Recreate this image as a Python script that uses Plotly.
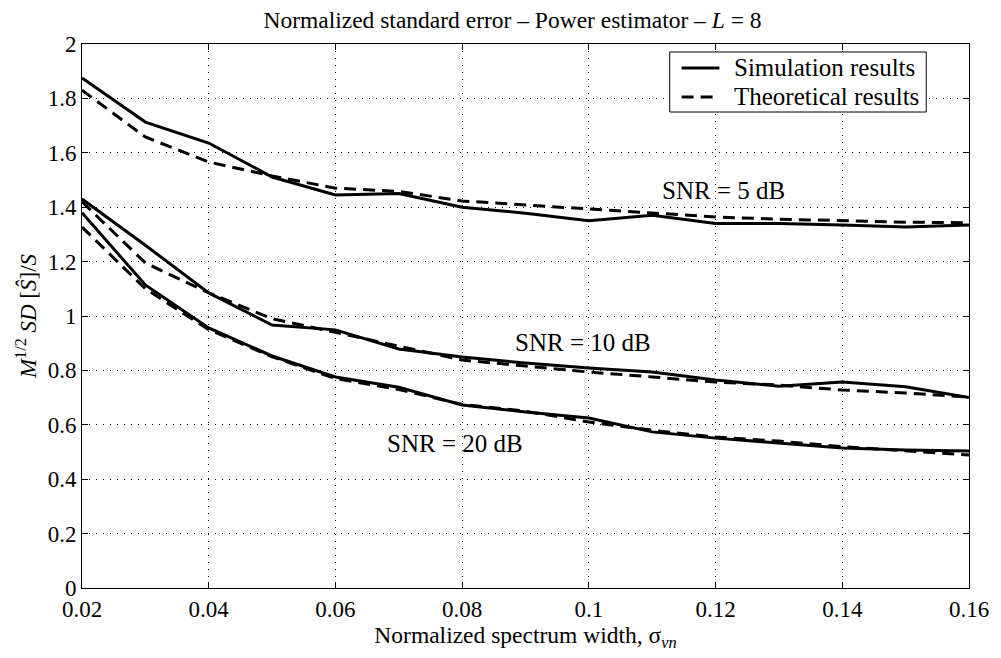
import plotly.graph_objects as go

sigma = [0.02, 0.03, 0.04, 0.05, 0.06, 0.07, 0.08, 0.09, 0.10, 0.11, 0.12, 0.13, 0.14, 0.15, 0.16]

sim_5db = [1.875, 1.713, 1.636, 1.511, 1.445, 1.450, 1.400, 1.378, 1.350, 1.370, 1.340, 1.340, 1.335, 1.327, 1.335]
theo_5db = [1.830, 1.658, 1.566, 1.515, 1.470, 1.458, 1.423, 1.408, 1.393, 1.378, 1.364, 1.356, 1.350, 1.345, 1.343]

sim_10db = [1.430, 1.260, 1.085, 0.967, 0.949, 0.879, 0.849, 0.827, 0.809, 0.794, 0.765, 0.742, 0.757, 0.740, 0.700]
theo_10db = [1.420, 1.195, 1.085, 0.990, 0.940, 0.890, 0.838, 0.816, 0.794, 0.776, 0.757, 0.746, 0.728, 0.717, 0.702]

sim_20db = [1.380, 1.114, 0.956, 0.853, 0.776, 0.738, 0.673, 0.647, 0.625, 0.574, 0.551, 0.533, 0.515, 0.507, 0.504]
theo_20db = [1.327, 1.100, 0.950, 0.850, 0.770, 0.730, 0.675, 0.650, 0.610, 0.580, 0.555, 0.540, 0.520, 0.505, 0.489]

labels = ["SNR = 5 dB", "SNR = 10 dB", "SNR = 20 dB"]
label_x = [0.1212, 0.0990, 0.0789]
label_y = [1.463, 0.904, 0.533]

legend_names = ["Simulation results", "Theoretical results"]

x_ticks = [0.02, 0.04, 0.06, 0.08, 0.10, 0.12, 0.14, 0.16]
x_ticktext = ["0.02", "0.04", "0.06", "0.08", "0.1", "0.12", "0.14", "0.16"]
y_ticks = [0, 0.2, 0.4, 0.6, 0.8, 1.0, 1.2, 1.4, 1.6, 1.8, 2.0]
y_ticktext = ["0", "0.2", "0.4", "0.6", "0.8", "1", "1.2", "1.4", "1.6", "1.8", "2"]

FONT = "Liberation Serif"
LW = 3
DASH = "12px,7px"

fig = go.Figure()
sims = [sim_5db, sim_10db, sim_20db]
theos = [theo_5db, theo_10db, theo_20db]
for s, t in zip(sims, theos):
    fig.add_trace(go.Scatter(x=sigma, y=t, mode="lines",
                             line=dict(color="black", width=LW, dash=DASH),
                             name=legend_names[1], showlegend=False))
    fig.add_trace(go.Scatter(x=sigma, y=s, mode="lines",
                             line=dict(color="black", width=LW),
                             name=legend_names[0], showlegend=False))

for txt, lx, ly in zip(labels, label_x, label_y):
    fig.add_annotation(x=lx, y=ly, text=txt, showarrow=False,
                       font=dict(family=FONT, size=25, color="black"),
                       xanchor="center", yanchor="middle")

# legend box (drawn in paper coordinates, MATLAB style)
fig.add_shape(type="rect", xref="paper", yref="paper",
              x0=0.6626, x1=0.9518, y0=0.875, y1=0.9853,
              line=dict(color="black", width=1), fillcolor="white", layer="above")
leg_rows_y = [0.9559, 0.9026]
leg_dash = ["solid", DASH]
for name, ry, dsh in zip(legend_names, leg_rows_y, leg_dash):
    fig.add_shape(type="line", xref="paper", yref="paper",
                  x0=0.676, x1=0.7186, y0=ry, y1=ry,
                  line=dict(color="black", width=LW, dash=dsh), layer="above")
    fig.add_annotation(xref="paper", yref="paper", x=0.7332, y=ry, text=name,
                       showarrow=False, xanchor="left", yanchor="middle",
                       font=dict(family=FONT, size=25, color="black"))

axis_common = dict(showline=True, linecolor="black", linewidth=1, mirror="ticks",
                   ticks="inside", ticklen=6, tickcolor="black",
                   showgrid=True, gridcolor="black", gridwidth=1, griddash="1px,6px",
                   zeroline=False,
                   tickfont=dict(family=FONT, size=23, color="black"))

fig.update_xaxes(range=[0.02, 0.16], tickvals=x_ticks, ticktext=x_ticktext,
                 title=dict(text="Normalized spectrum width, σ<sub><i>vn</i></sub>",
                            font=dict(family=FONT, size=23.5, color="black"), standoff=0),
                 **axis_common)
fig.update_yaxes(range=[0, 2], tickvals=y_ticks, ticktext=y_ticktext,
                 title=dict(text="<i>M</i><sup>1/2</sup> <i>SD</i> [<i>Ŝ</i>]/<i>S</i>",
                            font=dict(family=FONT, size=23, color="black"), standoff=4),
                 **axis_common)

fig.update_layout(
    width=1001, height=658,
    margin=dict(l=82, r=27, t=44, b=70),
    paper_bgcolor="white", plot_bgcolor="white",
    title=dict(text="Normalized standard error – Power estimator – <i>L</i> = 8",
               x=0.512, xanchor="center", y=0.970, yanchor="middle",
               xref="container",
               font=dict(family=FONT, size=23.5, color="black")),
    showlegend=False,
)

fig.write_html("out.html")
